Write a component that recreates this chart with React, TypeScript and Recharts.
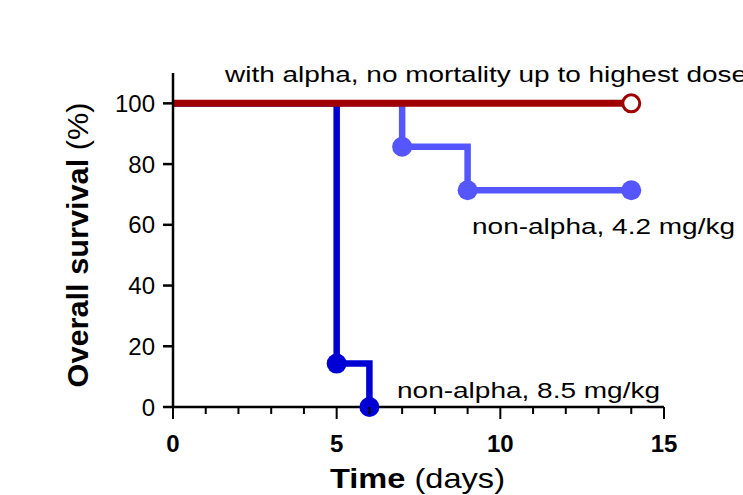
import React from 'react'
import { LineChart, Line, XAxis, YAxis } from 'recharts'

// survival curves (days vs % alive)
const alphaDays = [0, 14]
const alphaSurv = [100, 100]
const alphaMark = [false, true]

const low42Days = [0, 7, 9, 14]
const low42Surv = [100, 85.7, 71.4, 71.4]
const low42Mark = [false, true, true, true]

const high85Days = [0, 5, 6]
const high85Surv = [100, 14.3, 0]
const high85Mark = [false, true, true]

const xTicks = [0, 1, 2, 3, 4, 5, 6, 7, 8, 9, 10, 11, 12, 13, 14, 15]
const yTicks = [0, 20, 40, 60, 80, 100]

const FONT = '"Liberation Sans", Arial, Helvetica, sans-serif'
const RED = '#a00000'
const DARK = '#0000d4'
const LIGHT = '#5656ff'

const toRows = (days: number[], surv: number[], mark: boolean[]) =>
  days.map((d, i) => ({ day: d, surv: surv[i], mark: mark[i] }))

const alphaData = toRows(alphaDays, alphaSurv, alphaMark)
const low42Data = toRows(low42Days, low42Surv, low42Mark)
const high85Data = toRows(high85Days, high85Surv, high85Mark)

const filledDot = (color: string) => (p: any) =>
  p.payload.mark
    ? <circle key={p.index} cx={p.cx} cy={p.cy} r={10} fill={color} stroke="none" />
    : <g key={p.index} />

const openDot = (color: string) => (p: any) =>
  p.payload.mark
    ? <circle key={p.index} cx={p.cx} cy={p.cy} r={8.5} fill="#fff" stroke={color} strokeWidth={3} />
    : <g key={p.index} />

function XTick({ x, y, payload }: any) {
  const major = payload.value % 5 === 0
  return (
    <g>
      <line x1={x} x2={x} y1={y} y2={y + (major ? 12 : 7)} stroke="#000" strokeWidth={2} />
      {major && (
        <text x={x} y={y + 45} textAnchor="middle" fontWeight="bold" fontSize={24} fontFamily={FONT} fill="#000">
          {payload.value}
        </text>
      )}
    </g>
  )
}

export default function App() {
  return (
    <div style={{ position: 'absolute', left: 0, top: 0, width: 743, height: 495, background: '#fff', fontFamily: FONT }}>
      <LineChart width={743} height={495} margin={{ top: 73, right: 79, bottom: 48, left: 113 }}>
        <XAxis
          type="number" dataKey="day" domain={[0, 15]} ticks={xTicks} interval={0}
          tickSize={0} tickMargin={0} tickLine={false} tick={<XTick />} height={40}
          axisLine={{ stroke: '#000', strokeWidth: 2.5 }} allowDuplicatedCategory={false}
        />
        <YAxis
          type="number" domain={[0, 110]} ticks={yTicks} width={60}
          tickSize={10} tickMargin={8}
          tick={{ fontSize: 24, fill: '#000', fontFamily: FONT }}
          tickLine={{ stroke: '#000', strokeWidth: 2.5 }}
          axisLine={{ stroke: '#000', strokeWidth: 2.5 }}
        />
        <Line data={low42Data} dataKey="surv" type="stepAfter" stroke={LIGHT} strokeWidth={6.5}
          dot={filledDot(LIGHT)} activeDot={false} isAnimationActive={false} />
        <Line data={high85Data} dataKey="surv" type="stepAfter" stroke={DARK} strokeWidth={6.5}
          dot={filledDot(DARK)} activeDot={false} isAnimationActive={false} />
        <Line data={alphaData} dataKey="surv" type="stepAfter" stroke={RED} strokeWidth={7}
          dot={openDot(RED)} activeDot={false} isAnimationActive={false} />
      </LineChart>
      <svg width={743} height={495} style={{ position: 'absolute', left: 0, top: 0, pointerEvents: 'none' }} fontFamily={FONT}>
        <text x={225} y={82} fontSize={22} textLength={522} lengthAdjust="spacingAndGlyphs" fill="#000">
          with alpha, no mortality up to highest dose
        </text>
        <text x={472} y={234} fontSize={22} textLength={263} lengthAdjust="spacingAndGlyphs" fill="#000">
          non-alpha, 4.2 mg/kg
        </text>
        <text x={397} y={398} fontSize={22} textLength={263} lengthAdjust="spacingAndGlyphs" fill="#000">
          non-alpha, 8.5 mg/kg
        </text>
        <text x={330} y={488} fontSize={28} textLength={175} lengthAdjust="spacingAndGlyphs" fill="#000">
          <tspan fontWeight="bold">Time</tspan> (days)
        </text>
        <text transform="translate(88,245) rotate(-90)" textAnchor="middle" fontSize={30}
          textLength={285} lengthAdjust="spacingAndGlyphs" fill="#000">
          <tspan fontWeight="bold">Overall survival</tspan> (%)
        </text>
      </svg>
    </div>
  )
}
